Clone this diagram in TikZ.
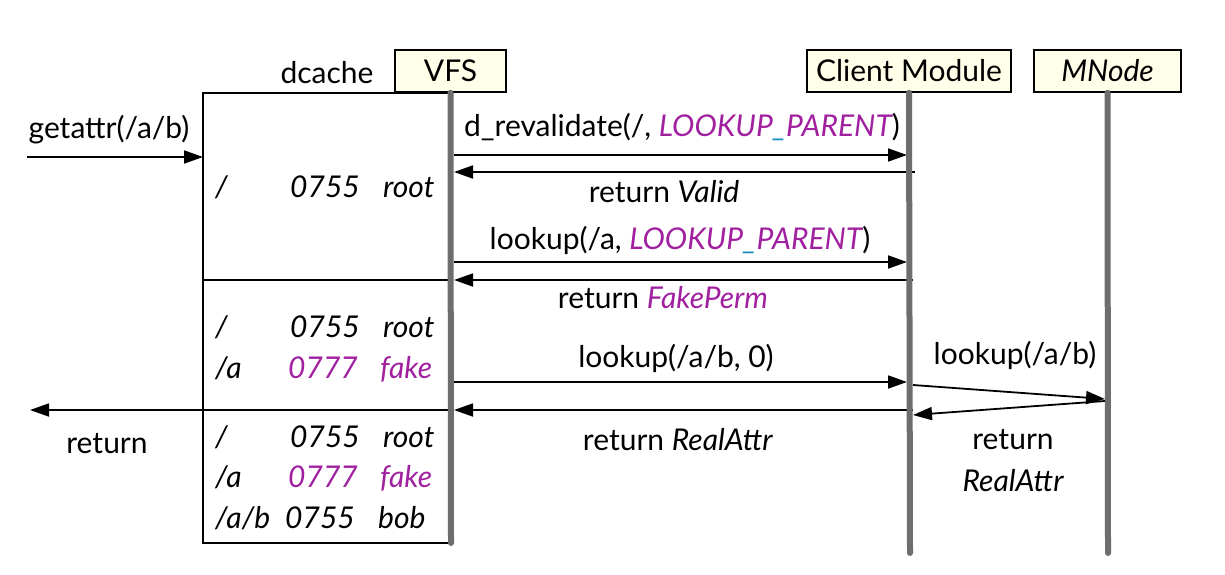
\documentclass[tikz,border=0pt]{standalone}
\usepackage{fontspec}
\setmainfont{Lato}
\usetikzlibrary{arrows.meta,positioning}
\definecolor{purp}{RGB}{160,32,160}
\definecolor{lifegray}{RGB}{110,110,110}
\definecolor{boxfill}{RGB}{255,255,234}
\definecolor{uline}{RGB}{20,140,190}
\begin{document}
\begin{tikzpicture}[x=1pt,y=-1pt,
    actor/.style={draw,line width=1.6pt,fill=boxfill,minimum height=42pt,inner sep=0pt,
      font=\fontsize{30}{34}\selectfont},
    life/.style={line width=6pt,lifegray,line cap=round},
    msg/.style={line width=1.8pt,-{Triangle[length=19pt,width=13pt]}},
    lbl/.style={inner sep=0pt,font=\fontsize{30}{34}\selectfont},
    cell/.style={inner sep=0pt,font=\fontsize{30}{34}\selectfont\itshape}]

  \useasboundingbox (0,0) rectangle (1225,575);

  % actors
  \node[actor,minimum width=111pt] (vfs) at (450.5,71) {VFS};
  \node[actor,minimum width=204pt] (client) at (909,71) {Client Module};
  \node[actor,minimum width=147pt] (mnode) at (1107.5,71) {\itshape MNode};
  \node[lbl] (dclbl) at (327,73) {dcache};

  % dcache table
  \draw[line width=1.6pt] (451,93) -- (203,93) -- (203,543) -- (451,543);
  \draw[line width=1.6pt] (203,280) -- (451,280);
  \draw[line width=1.6pt] (203,410) -- (451,410);

  \node[cell,anchor=base west] (r1p) at (215,197) {/};
  \node[cell,anchor=base east] (r1m) at (360,197) {0755};
  \node[cell,anchor=base west] (r1o) at (383,197) {root};

  \node[cell,anchor=base west] (r2p) at (215,337) {/};
  \node[cell,anchor=base east] (r2m) at (360,337) {0755};
  \node[cell,anchor=base west] (r2o) at (383,337) {root};
  \node[cell,anchor=base west] (r3p) at (215,378) {/a};
  \node[cell,anchor=base east,purp] (r3m) at (358,378) {0777};
  \node[cell,anchor=base west,purp] (r3o) at (380,378) {fake};

  \node[cell,anchor=base west] (r4p) at (215,447) {/};
  \node[cell,anchor=base east] (r4m) at (360,447) {0755};
  \node[cell,anchor=base west] (r4o) at (383,447) {root};
  \node[cell,anchor=base west] (r5p) at (215,487) {/a};
  \node[cell,anchor=base east,purp] (r5m) at (358,487) {0777};
  \node[cell,anchor=base west,purp] (r5o) at (380,487) {fake};
  \node[cell,anchor=base west] (r6p) at (215,528) {/a/b};
  \node[cell,anchor=base east] (r6m) at (355,528) {0755};
  \node[cell,anchor=base west] (r6o) at (378,528) {bob};

  % message end points
  \coordinate (in0) at (27,157);
  \coordinate (in1) at (203,157);
  \coordinate (out0) at (203,410);
  \coordinate (out1) at (30,410);
  \coordinate (v1) at (454,155);  \coordinate (c1) at (907,155);
  \coordinate (c2) at (915,172);  \coordinate (v2) at (454,172);
  \coordinate (v3) at (454,262);  \coordinate (c3) at (907,262);
  \coordinate (c4) at (913,280);  \coordinate (v4) at (454,280);
  \coordinate (v5) at (454,382);  \coordinate (c5) at (907,382);
  \coordinate (c6) at (913,410);  \coordinate (v6) at (454,410);
  \coordinate (c7) at (913,385);  \coordinate (n7) at (1105,399);
  \coordinate (n8) at (1105,401); \coordinate (c8) at (913,415);

  % messages
  \draw[msg] (in0) -- (in1);
  \draw[msg] (out0) -- (out1);
  \draw[msg] (v1) -- (c1);
  \draw[msg] (c2) -- (v2);
  \draw[msg] (v3) -- (c3);
  \draw[msg] (c4) -- (v4);
  \draw[msg] (v5) -- (c5);
  \draw[msg] (c6) -- (v6);
  \draw[msg] (c7) -- (n7);
  \draw[msg] (n8) -- (c8);

  % lifelines
  \coordinate (vfsend) at (451,543);
  \coordinate (clientend) at (910,553);
  \coordinate (mnodeend) at (1108,553);
  \draw[life] (vfs.south) -- (vfsend);
  \draw[life] (client.south) -- (clientend);
  \draw[life] (mnode.south) -- (mnodeend);

  % labels
  \node[lbl] (getlbl) at (109,130) {getattr(/a/b)};
  \node[lbl] (retlbl) at (107,444) {return};
  \node[lbl] (m1lbl) at (682,127) {d\_revalidate(/, \textcolor{purp}{\itshape LOOKUP\textcolor{uline}{\_}PARENT})};
  \node[lbl] (m2lbl) at (664,192) {return \textit{Valid}};
  \node[lbl] (m3lbl) at (680,240) {lookup(/a, \textcolor{purp}{\itshape LOOKUP\textcolor{uline}{\_}PARENT})};
  \node[lbl] (m4lbl) at (663,298) {return \textcolor{purp}{\itshape FakePerm}};
  \node[lbl] (m5lbl) at (676,358) {lookup(/a/b, 0)};
  \node[lbl] (m6lbl) at (678,440) {return \textit{RealAttr}};
  \node[lbl] (m7lbl) at (1015,355) {lookup(/a/b)};
  \node[lbl] (m8lbl) at (1013,440) {return};
  \node[lbl] (m8lblb) at (1013,481) {\itshape RealAttr};
\end{tikzpicture}
\end{document}
